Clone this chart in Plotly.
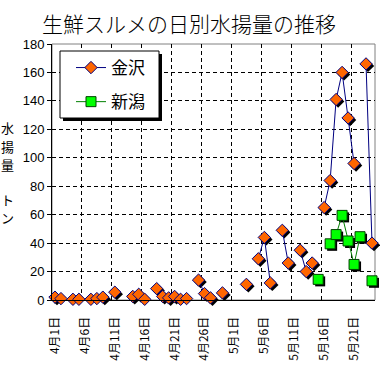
import plotly.graph_objects as go

# ---- data ----
day_labels = [f"4月{d}日" for d in range(1, 31)] + [f"5月{d}日" for d in range(1, 25)]
tick_days = ["4月1日", "4月6日", "4月11日", "4月16日", "4月21日", "4月26日",
             "5月1日", "5月6日", "5月11日", "5月16日", "5月21日"]
y_ticks = [0, 20, 40, 60, 80, 100, 120, 140, 160, 180]

kanazawa = [2, 1, None, 0.5, 0.5, None, 0.5, 1, 2, None,
            5.5, None, None, 2.5, 4, 0.5, None, 8, 2.5, 1.5,
            2.5, 0.5, 1, None, 14, 4.5, 1.5, None, 5, None,
            None, None, 11, None, 29, 44, 12, None, 49, 26,
            None, 35, 20, 26, None, 65, 84, 141, 160, 128,
            96, None, 166, 40]
niigata = [None] * 44 + [14.5, None, 39.5, 46, 59.5, 41.5, 25, 44.5, None, 13.5]

name_k = "金沢"
name_n = "新潟"
y_title_chars = ["水", "揚", "量", "ト", "ン"]

# ---- figure ----
idx = list(range(len(day_labels)))
tick_pos = [day_labels.index(t) for t in tick_days]

L, R, T, B = 52, 5, 44, 80
W = H = 380
pw = W - L - R
ph = H - T - B
x_lo, x_hi = -0.5, len(day_labels) - 0.5
y_lo, y_hi = 0, 180
dx = 2 * (x_hi - x_lo) / pw
dy = 2 * (y_hi - y_lo) / ph


def shifted(vals):
    return [None if v is None else v - dy for v in vals]


def px_x(p):
    return (p - L) / pw


def px_y(p):
    return (H - B - p) / ph


fig = go.Figure()
# shadows
fig.add_trace(go.Scatter(x=[i + dx for i in idx], y=shifted(kanazawa), mode="markers",
                         marker=dict(symbol="diamond", size=9.5, color="black",
                                     line=dict(width=0)),
                         showlegend=False, hoverinfo="skip", cliponaxis=False))
fig.add_trace(go.Scatter(x=[i + dx for i in idx], y=shifted(niigata), mode="markers",
                         marker=dict(symbol="square", size=10, color="black",
                                     line=dict(width=0)),
                         showlegend=False, hoverinfo="skip", cliponaxis=False))
fig.add_trace(go.Scatter(x=idx, y=kanazawa, mode="lines+markers", name=name_k,
                         connectgaps=False, line=dict(color="#000080", width=1),
                         marker=dict(symbol="diamond", size=9.5, color="#FF6600",
                                     line=dict(color="#000080", width=1)),
                         legendgroup="a", cliponaxis=False))
fig.add_trace(go.Scatter(x=idx, y=niigata, mode="lines+markers", name=name_n,
                         connectgaps=False, line=dict(color="#008000", width=1),
                         marker=dict(symbol="square", size=10, color="#00FF00",
                                     line=dict(color="#004000", width=1)),
                         legendgroup="b", cliponaxis=False))

fig.update_layout(
    width=W, height=H,
    margin=dict(l=L, r=R, t=T, b=B),
    paper_bgcolor="white", plot_bgcolor="white",
    font=dict(family="Liberation Sans, Arial, sans-serif", color="black", size=13),
    title=dict(text="生鮮スルメの日別水揚量の推移", x=189 / W, xanchor="center",
               y=1 - 25 / H, yanchor="middle",
               font=dict(family="Noto Sans CJK JP", size=21, color="black", weight=300)),
    legend=dict(x=px_x(71), y=px_y(50), xanchor="left", yanchor="top",
                bgcolor="rgba(0,0,0,0)", borderwidth=0,
                font=dict(family="Noto Sans CJK JP", size=17),
                tracegroupgap=9, traceorder="grouped", itemwidth=30),
    showlegend=True,
)
fig.update_xaxes(range=[x_lo, x_hi], tickmode="array", tickvals=tick_pos, ticktext=tick_days,
                 tickangle=-90, ticks="", showgrid=False, zeroline=False,
                 showline=True, linecolor="black", linewidth=1,
                 ticklabelstandoff=11,
                 tickfont=dict(family="Noto Sans CJK JP", size=12),
                 minor=dict(tick0=-0.5, dtick=5, showgrid=True, gridcolor="black",
                            griddash="4px,3px", gridwidth=1, ticks=""))
fig.update_yaxes(range=[y_lo, y_hi], tickmode="array", tickvals=y_ticks,
                 ticks="outside", ticklen=4, tickcolor="black",
                 showgrid=True, gridcolor="black", griddash="4px,3px", gridwidth=1,
                 zeroline=False, showline=True, linecolor="black", linewidth=1,
                 tickfont=dict(size=13))
# gray frame on top/right
fig.add_shape(type="rect", xref="paper", yref="paper", x0=0, x1=1, y0=0, y1=1,
              line=dict(color="#808080", width=1), layer="below")
# legend shadow and box
fig.add_shape(type="rect", xref="paper", yref="paper",
              x0=px_x(63), x1=px_x(162), y0=px_y(121), y1=px_y(54),
              line=dict(width=0), fillcolor="black", layer="above")
fig.add_shape(type="rect", xref="paper", yref="paper",
              x0=px_x(60), x1=px_x(159), y0=px_y(118), y1=px_y(51),
              line=dict(width=1, color="black"), fillcolor="white", layer="above")
# y-axis title (vertical text, one character per annotation)
for ch, py in zip(y_title_chars, [127, 146, 164, 199, 217]):
    fig.add_annotation(text=ch, xref="paper", yref="paper",
                       x=px_x(7), y=px_y(py), xanchor="center", yanchor="middle",
                       showarrow=False, font=dict(family="Noto Sans CJK JP", size=13))
fig.write_html("out.html", config={"displayModeBar": False},
               post_script="document.body.style.margin='0';")
